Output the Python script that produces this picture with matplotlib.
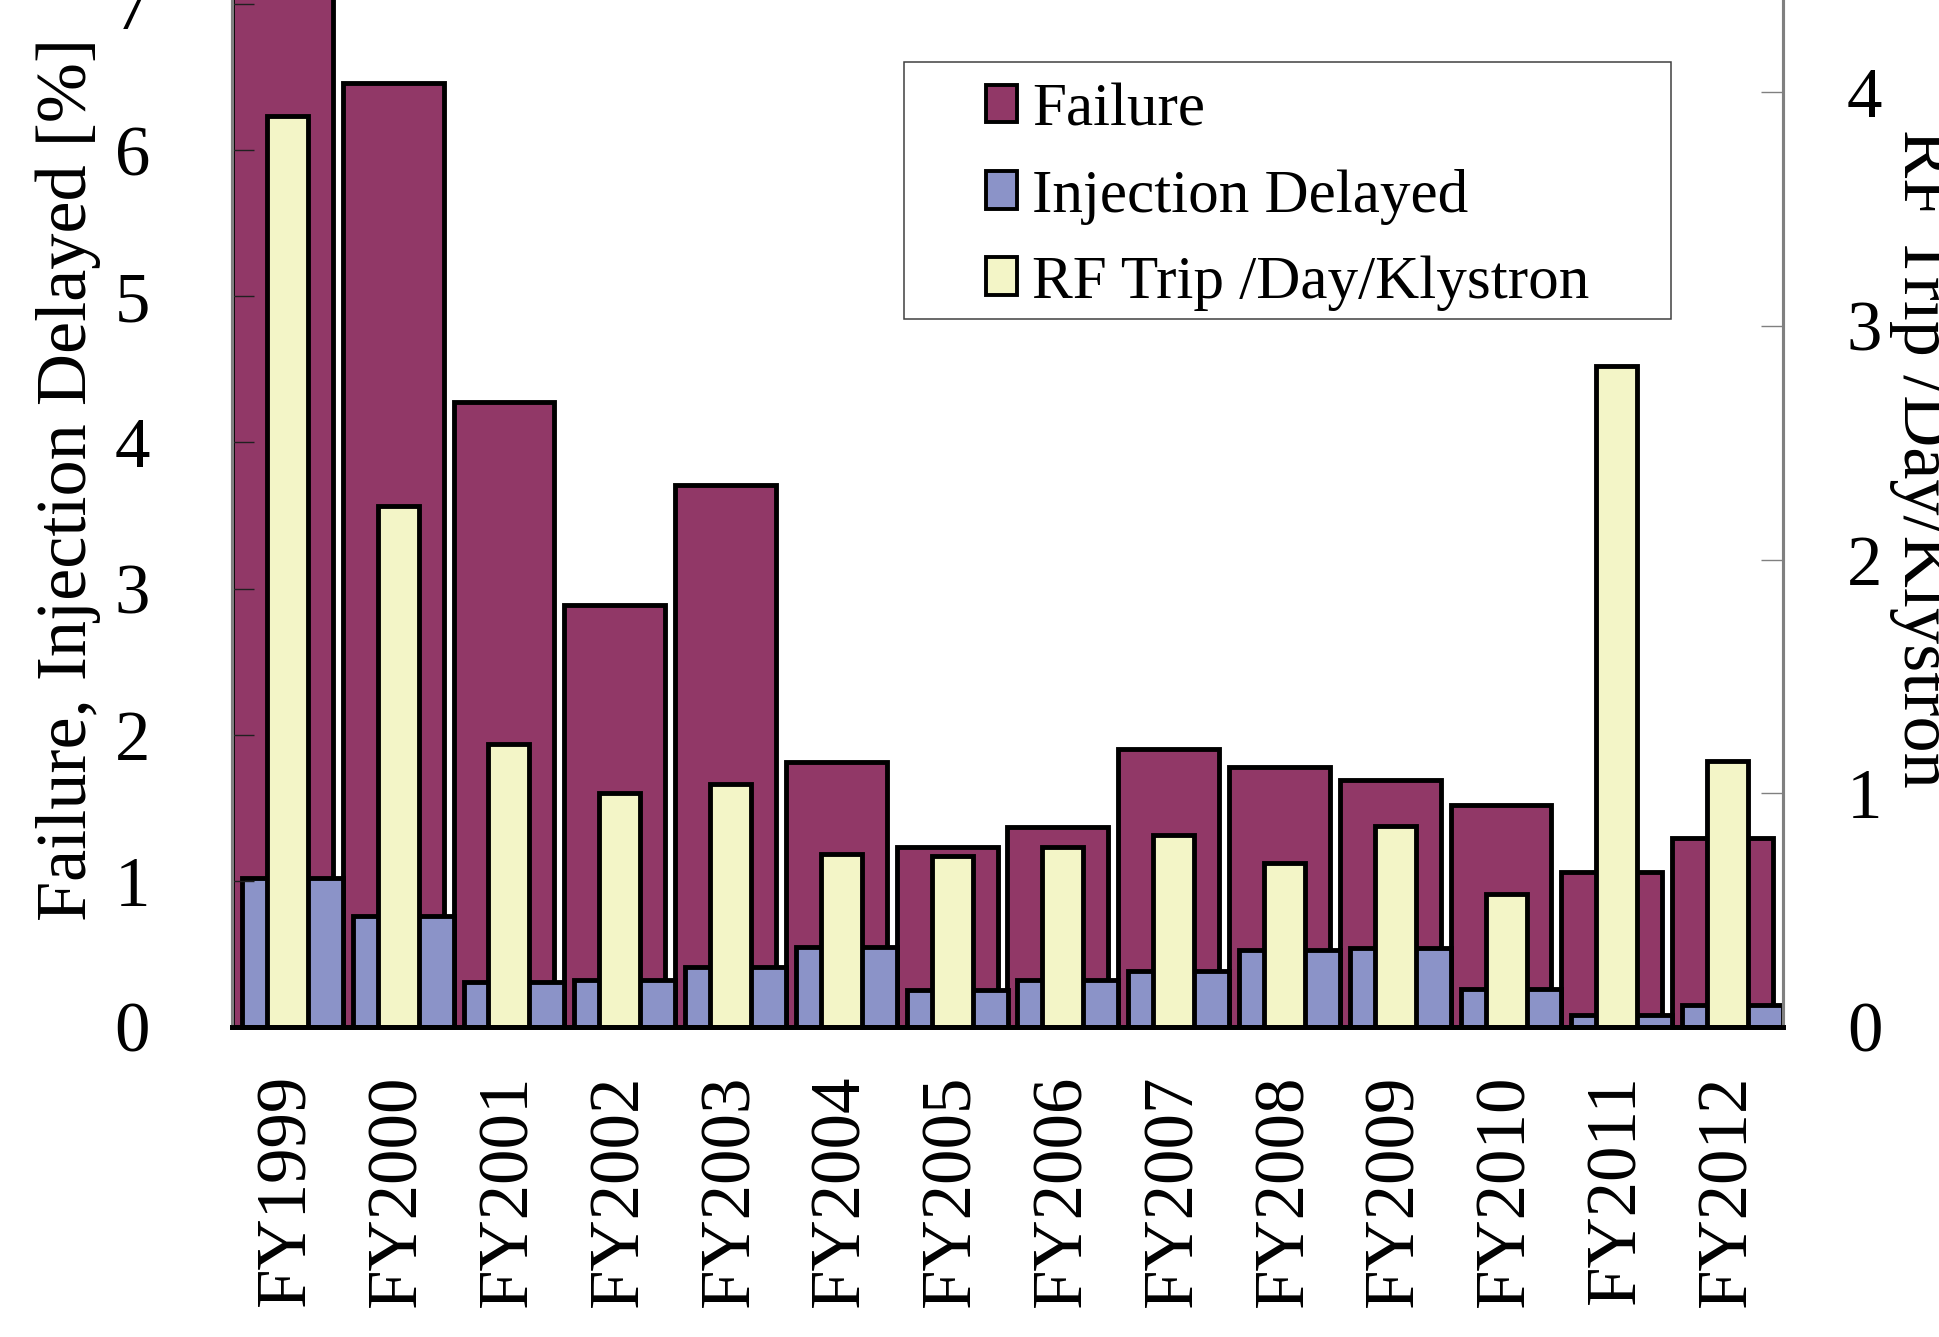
import numpy as np
import matplotlib
matplotlib.use('Agg')
import matplotlib.pyplot as plt
from matplotlib.patches import Patch, Rectangle

plt.rcParams['font.family'] = ['Liberation Serif', 'DejaVu Serif']

years = ['FY1999', 'FY2000', 'FY2001', 'FY2002', 'FY2003', 'FY2004', 'FY2005',
         'FY2006', 'FY2007', 'FY2008', 'FY2009', 'FY2010', 'FY2011', 'FY2012']
failure = [7.3, 6.46, 4.28, 2.89, 3.71, 1.81, 1.23, 1.37, 1.90, 1.78, 1.69, 1.52, 1.06, 1.29]
injection_delayed = [1.02, 0.76, 0.31, 0.32, 0.41, 0.55, 0.25, 0.32, 0.38, 0.53, 0.54, 0.26, 0.08, 0.15]
rf_trip = [3.90, 2.23, 1.21, 1.00, 1.04, 0.74, 0.73, 0.77, 0.82, 0.70, 0.86, 0.57, 2.83, 1.14]

c_fail = '#913867'
c_inj = '#8b93c8'
c_rf = '#f3f5c7'
edge_lw = 3.5

W, H = 1940, 1337
fig = plt.figure(figsize=(W / 100, H / 100), dpi=100)
# axes run past the top of the figure (the original picture is cropped)
ax = fig.add_axes([232 / W, 310 / H, (1783 - 232) / W, 1096 / H])
ax2 = ax.twinx()

x = np.arange(len(years))
ax.bar(x - 0.045, failure, width=0.91, color=c_fail, edgecolor='black', linewidth=edge_lw)
ax.bar(x + 0.045, injection_delayed, width=0.91, color=c_inj, edgecolor='black', linewidth=edge_lw)
ax2.bar(x, rf_trip, width=0.37, color=c_rf, edgecolor='black', linewidth=edge_lw)

ax.set_xlim(-0.5, len(years) - 0.5)
ax.set_ylim(0, 7.5)
ax2.set_ylim(0, 4.69)
ax.set_yticks(range(0, 8))
ax2.set_yticks(range(0, 5))

ax.set_xticks(x)
ax.set_xticklabels(years, rotation=90, fontsize=51)
ax.tick_params(axis='x', length=0, pad=34)
ax.tick_params(axis='y', direction='in', length=16, width=1.0, color='#202020',
               labelsize=51, pad=59)
ax2.tick_params(axis='y', direction='in', length=16, width=1.0, color='#808080',
                labelsize=51, pad=46)

for a in (ax, ax2):
    a.spines['top'].set_visible(False)
    a.spines['left'].set_color('#808080')
    a.spines['left'].set_linewidth(2.2)
    a.spines['right'].set_color('#808080')
    a.spines['right'].set_linewidth(2.2)
    a.spines['bottom'].set_color('black')
    a.spines['bottom'].set_linewidth(3.5)

fig.text(68 / W, 1 - 479 / H, 'Failure, Injection Delayed [%]', rotation=90,
         ha='center', va='center', fontsize=52)
fig.text(1922 / W, 1 - 458 / H, 'RF Trip /Day/Klystron', rotation=-90,
         ha='center', va='center', fontsize=52)

handles = [Patch(facecolor=c_fail, edgecolor='black', linewidth=2.8),
           Patch(facecolor=c_inj, edgecolor='black', linewidth=2.8),
           Patch(facecolor=c_rf, edgecolor='black', linewidth=2.8)]
labels = ['Failure', 'Injection Delayed', 'RF Trip /Day/Klystron']
leg = ax2.legend(handles, labels, loc='upper left', bbox_to_anchor=(955 / W, 1 - 52 / H),
                 bbox_transform=fig.transFigure, frameon=False, fontsize=44,
                 borderpad=0, handlelength=0.52, handleheight=0.57,
                 handletextpad=0.24, labelspacing=0.5)
fig.patches.append(Rectangle((904 / W, 1 - 319 / H), 767 / W, 257 / H,
                             transform=fig.transFigure, fill=False,
                             edgecolor='#404040', linewidth=1.1, zorder=5))

fig.savefig('out.png', dpi=100)
